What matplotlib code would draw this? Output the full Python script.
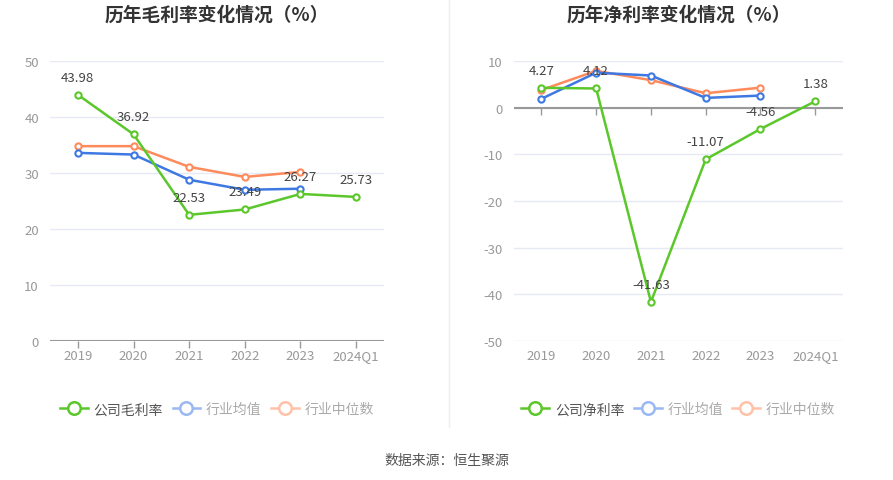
import matplotlib
matplotlib.use("Agg")
import matplotlib.pyplot as plt
from matplotlib.lines import Line2D

plt.rcParams['font.family'] = ['Noto Sans CJK SC', 'DejaVu Sans']
plt.rcParams['axes.unicode_minus'] = False

# 数据
years = ['2019', '2020', '2021', '2022', '2023', '2024Q1']
gross_company = [43.98, 36.92, 22.53, 23.49, 26.27, 25.73]
gross_avg = [33.6, 33.3, 28.8, 27.0, 27.2]
gross_median = [34.8, 34.8, 31.1, 29.3, 30.2]
net_company = [4.27, 4.12, -41.63, -11.07, -4.56, 1.38]
net_avg = [1.9, 7.5, 6.9, 2.1, 2.6]
net_median = [3.8, 7.9, 5.9, 3.1, 4.3]

GREEN = '#5BC72B'
BLUE = '#3E78E3'
ORANGE = '#FF8A5B'
GRID = '#E6EAF4'
TICK = '#999999'

fig = plt.figure(figsize=(8.93, 4.81), dpi=100)


def draw(ax, company, avg, median, ylim, yticks, title, name):
    x = list(range(len(years)))
    for vals, col, z in [(median, ORANGE, 2), (avg, BLUE, 3), (company, GREEN, 4)]:
        ax.plot(x[:len(vals)], vals, color=col, lw=1.8, marker='o', ms=4.5,
                mfc='white', mec=col, mew=1.5, zorder=z, clip_on=False)
    for xi, v in zip(x, company):
        ax.annotate(f'{v:.2f}', (xi, v), xytext=(0, 8), textcoords='offset points',
                    ha='center', va='bottom', fontsize=9.5, color='#444444', zorder=6)
    ax.set_xlim(-0.5, 5.5)
    ax.set_ylim(*ylim)
    ax.set_yticks(yticks)
    ax.set_xticks(x)
    ax.set_xticklabels(years)
    ax.grid(axis='y', color=GRID, lw=1)
    ax.set_axisbelow(True)
    for s in ['top', 'right', 'left', 'bottom']:
        ax.spines[s].set_visible(False)
    ax.axhline(0, color='#999999', lw=1.5, zorder=1)
    ax.tick_params(axis='y', length=0, labelsize=9.5, labelcolor=TICK, pad=8)
    ax.tick_params(axis='x', length=0, labelsize=9.5, labelcolor=TICK, pad=6)
    # 零线上的刻度（朝下）
    ax.plot(x, [0] * len(x), ls='none', marker=3, ms=5, color='#999999', mew=1,
            zorder=1, clip_on=False)
    pos = ax.get_position()
    cx = pos.x0 + pos.width / 2
    fig.text(cx, 0.968, title, ha='center', va='center', fontsize=13.5,
             fontweight='bold', color='#333333')
    handles = [
        Line2D([], [], color=GREEN, lw=1.8, marker='o', ms=9, mfc='white', mec=GREEN, mew=1.8),
        Line2D([], [], color='#9BB8F2', lw=1.8, marker='o', ms=9, mfc='white', mec='#9BB8F2', mew=1.8),
        Line2D([], [], color='#FFC2A8', lw=1.8, marker='o', ms=9, mfc='white', mec='#FFC2A8', mew=1.8),
    ]
    leg = fig.legend(handles, [name, '行业均值', '行业中位数'], loc='center',
                     bbox_to_anchor=(cx, 0.147), ncol=3, frameon=False, fontsize=10,
                     handlelength=2.0, handletextpad=0.4, columnspacing=0.7)
    for t, c in zip(leg.get_texts(), ['#555555', '#AAAAAA', '#AAAAAA']):
        t.set_color(c)


ax1 = fig.add_axes([0.056, 0.289, 0.374, 0.582])
draw(ax1, gross_company, gross_avg, gross_median, (0, 50), [0, 10, 20, 30, 40, 50],
     '历年毛利率变化情况（%）', '公司毛利率')

ax2 = fig.add_axes([0.5756, 0.289, 0.368, 0.582])
draw(ax2, net_company, net_avg, net_median, (-50, 10), [-50, -40, -30, -20, -10, 0, 10],
     '历年净利率变化情况（%）', '公司净利率')

# 分隔线
fig.add_artist(Line2D([449 / 893, 449 / 893], [1 - 428 / 481, 1.0],
                      color='#EEEEEE', lw=1))

fig.text(0.5, 1 - 461 / 481, '数据来源：恒生聚源', ha='center', va='center',
         fontsize=10, color='#555555')

fig.savefig('out.png', dpi=100)
